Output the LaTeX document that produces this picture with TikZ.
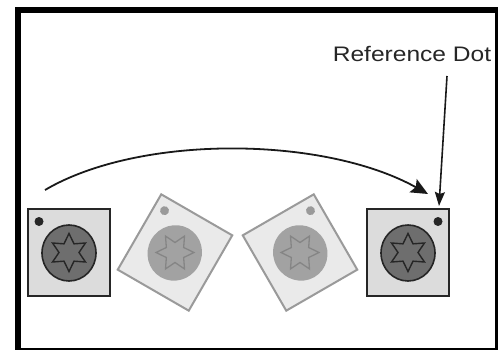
\documentclass[tikz,border=0pt]{standalone}
\usepackage{fontspec}
\setmainfont{Liberation Sans}
\usetikzlibrary{arrows.meta}

\definecolor{tilefill}{HTML}{DCDCDC}
\definecolor{tileedge}{HTML}{262626}
\definecolor{discfill}{HTML}{6E6E6E}
\definecolor{ghostfill}{HTML}{EAEAEA}
\definecolor{ghostedge}{HTML}{9A9A9A}
\definecolor{ghostdisc}{HTML}{A2A2A2}
\definecolor{ghoststar}{HTML}{858585}

% one tile: frame, disc with a six-pointed star, and the reference dot (#1 = its x offset)
\newcommand\drawtile[1]{%
  \path[tileframe] (-41,-43.5) rectangle (41,43.5);
  \path[tiledisc] (0,0.5) ellipse [x radius=27, y radius=28];
  \path[tilestar] (90:19) -- (120:10) -- (150:19) -- (180:10) -- (210:19) -- (240:10)
    -- (270:19) -- (300:10) -- (330:19) -- (0:10) -- (30:19) -- (60:10) -- cycle;
  \path[tiledot] (#1,-31) circle (4.5);
}

\tikzset{
  front/.style={
    tileframe/.style={draw=tileedge, fill=tilefill, line width=2pt},
    tiledisc/.style={draw=tileedge, fill=discfill, line width=1.6pt},
    tilestar/.style={draw=tileedge, line width=1.4pt, line join=miter},
    tiledot/.style={fill=black!85}},
  ghost/.style={
    tileframe/.style={draw=ghostedge, fill=ghostfill, line width=2pt},
    tiledisc/.style={fill=ghostdisc},
    tilestar/.style={draw=ghoststar, line width=1.3pt, line join=miter},
    tiledot/.style={fill=ghostedge}},
  pointer/.style={line width=1.8pt, black!90},
  caption/.style={font=\fontsize{21}{21}\selectfont, text=black!85, inner sep=0pt, xscale=1.17}
}

\begin{document}
\begin{tikzpicture}[x=1pt, y=-1pt]
\useasboundingbox (0,0) rectangle (500,350);

% heavy frame on the top and left, thin on the right and bottom
\fill[black] (15,7) rectangle (21,350);
\fill[black] (15,7) rectangle (498,13);
\fill[black] (495,7) rectangle (498,350);
\fill[black] (15,348) rectangle (498,350);

% tiles: start, two turning steps, end
\begin{scope}[shift={(69,252.5)}, front] \drawtile{-30} \end{scope}
\begin{scope}[shift={(175,252.5)}, rotate=-30, ghost] \drawtile{-30} \end{scope}
\begin{scope}[shift={(300,252.5)}, rotate=30, ghost] \drawtile{30} \end{scope}
\begin{scope}[shift={(408,252.5)}, front] \drawtile{30} \end{scope}

% motion arc
\coordinate (arcfrom) at (45,190);
\coordinate (arcto) at (428,194);
\draw[pointer, -{Stealth[length=17pt, width=15pt, inset=3pt]}]
  (arcfrom) .. controls (140,134) and (324,136) .. (arcto);

% label and its pointer to the dot
\node[caption, anchor=base] (lbl) at (412,62) {Reference Dot};
\coordinate (pointerfrom) at (447,76);
\coordinate (dotmark) at (439,206);
\draw[line width=1.6pt, black!90, -{Stealth[length=14pt, width=10pt, inset=2pt]}]
  (pointerfrom) -- (dotmark);
\end{tikzpicture}
\end{document}
